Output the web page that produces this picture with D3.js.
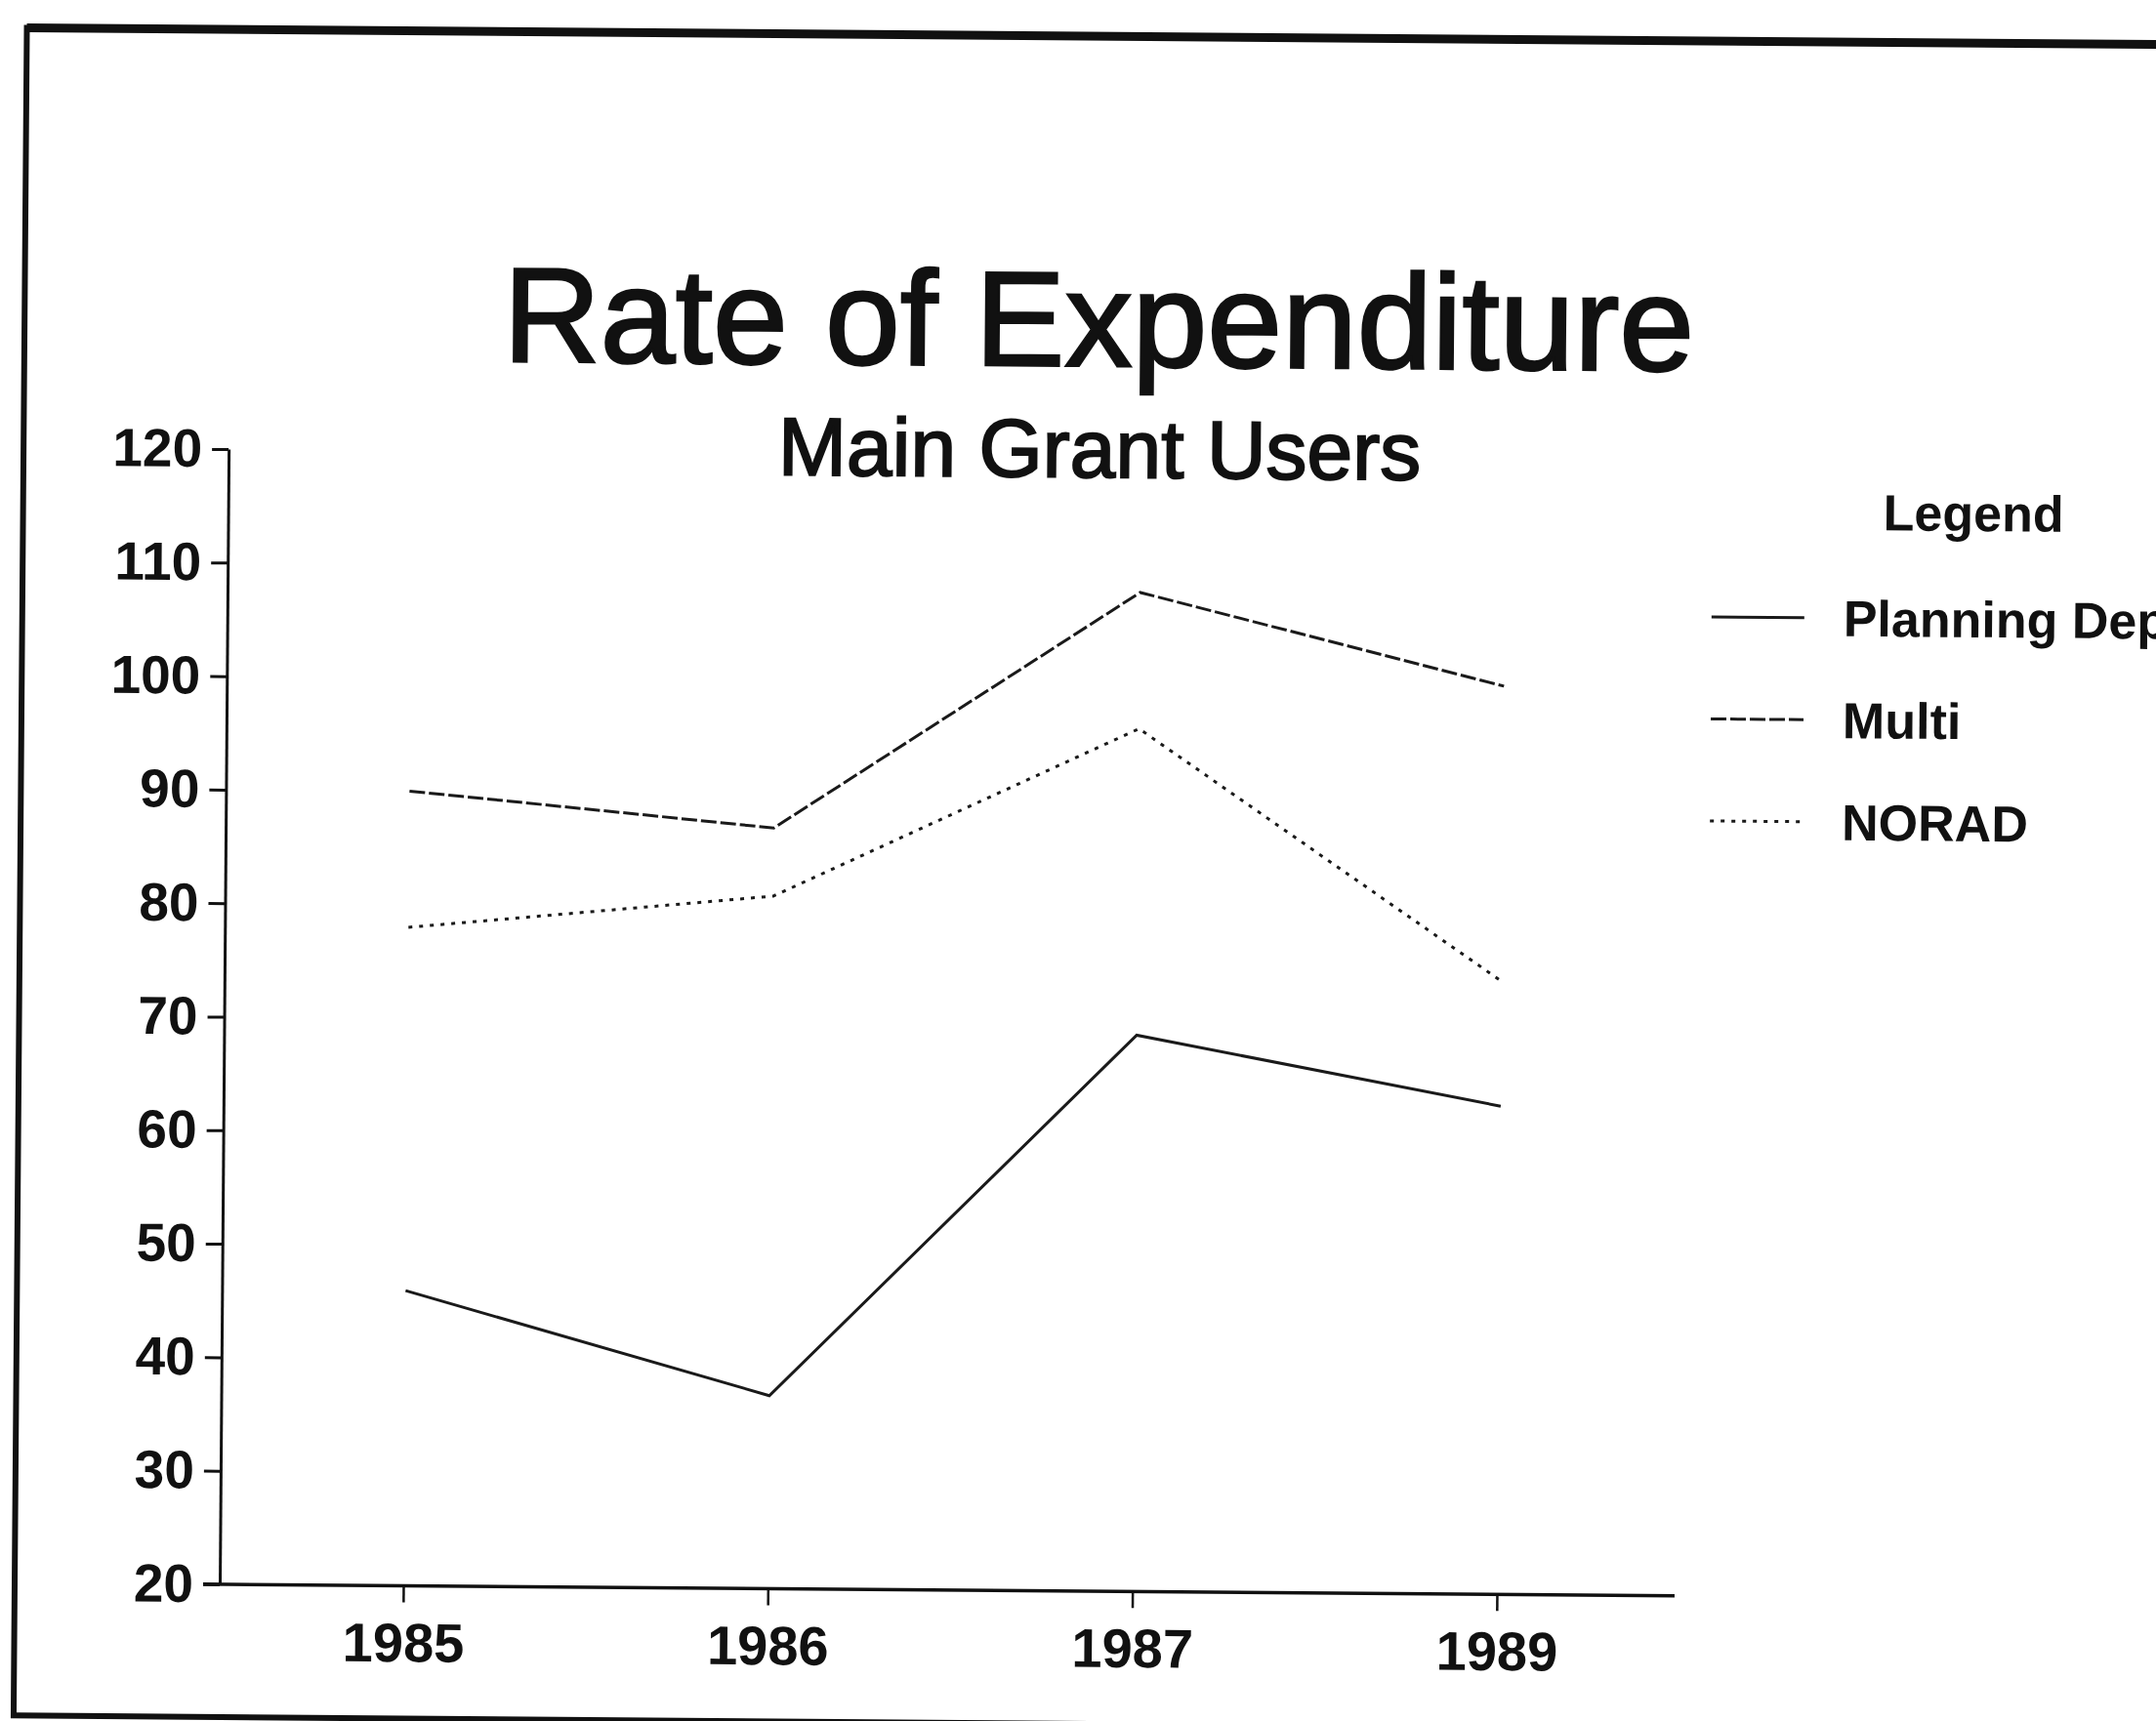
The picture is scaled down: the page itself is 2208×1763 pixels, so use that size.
<!DOCTYPE html>
<html>
<head>
<meta charset="utf-8">
<script src="https://cdn.jsdelivr.net/npm/d3@7"></script>
<style>
  html, body { margin: 0; padding: 0; background: #fff; }
  svg { display: block; }
  text { font-family: "Liberation Sans", Arial, Helvetica, sans-serif; fill: #111; }
</style>
</head>
<body>
<svg id="chart" width="2208" height="1763"></svg>
<script>
// Years on the horizontal axis (1988 is not reported)
const years = ["1985", "1986", "1987", "1989"];

// Expenditure rate per user group
const planningDept = [46, 37, 69, 63];
const multi        = [90, 87, 108, 100];
const norad        = [78, 81, 96, 74];

// Vertical axis ticks
const yTicks = [20, 30, 40, 50, 60, 70, 80, 90, 100, 110, 120];

const seriesNames = ["Planning Dept.", "Multi", "NORAD"];
const seriesDash  = [null, "16,4", "4,7"];

const series = [planningDept, multi, norad].map((vals, i) => ({
  name: seriesNames[i],
  dash: seriesDash[i],
  values: years.map((yr, j) => ({ year: yr, value: vals[j] }))
}));

const W = 2208, H = 1763;
const originX = 225, originY = 1623;

const svg = d3.select("#chart");
svg.append("rect").attr("width", W).attr("height", H).attr("fill", "#fff");

// the printed sheet sits slightly tilted
const page = svg.append("g").attr("transform", `rotate(0.45, ${originX}, ${originY})`);

// page frame
page.append("rect")
  .attr("x", 15).attr("y", 30)
  .attr("width", 2400).attr("height", 1729)
  .attr("fill", "none").attr("stroke", "#111").attr("stroke-width", 6);
page.append("line")
  .attr("x1", 15).attr("x2", 2400).attr("y1", 30).attr("y2", 30)
  .attr("stroke", "#111").attr("stroke-width", 9);

const x = d3.scalePoint().domain(years).range([413, 1533]);
const y = d3.scaleLinear().domain([20, 120]).range([originY, 460]);

// titles
page.append("text")
  .attr("x", 1115).attr("y", 368)
  .attr("text-anchor", "middle")
  .attr("font-size", 138)
  .attr("stroke", "#111").attr("stroke-width", 2.5)
  .text("Rate of Expenditure");
page.append("text")
  .attr("x", 1117).attr("y", 482)
  .attr("text-anchor", "middle")
  .attr("font-size", 84)
  .attr("stroke", "#111").attr("stroke-width", 2)
  .text("Main Grant Users");

// y axis
const yAxis = page.append("g")
  .attr("transform", `translate(${originX},0)`)
  .call(d3.axisLeft(y).tickValues(yTicks).tickSize(17).tickSizeOuter(0).tickPadding(10));
yAxis.select(".domain").attr("stroke", "#111").attr("stroke-width", 3);
yAxis.selectAll(".tick line").attr("stroke", "#111").attr("stroke-width", 3);
yAxis.selectAll(".tick text")
  .attr("font-size", 55).attr("font-weight", "bold")
  .attr("font-family", "Liberation Sans, Arial, sans-serif").attr("fill", "#111");

// x axis
const xAxis = page.append("g")
  .attr("transform", `translate(0,${originY})`)
  .call(d3.axisBottom(x).tickSize(17).tickPadding(21));
xAxis.select(".domain").remove();
xAxis.insert("line", ":first-child")
  .attr("x1", originX - 17).attr("x2", 1715)
  .attr("y1", 0).attr("y2", 0)
  .attr("stroke", "#111").attr("stroke-width", 3.5);
xAxis.selectAll(".tick line").attr("stroke", "#111").attr("stroke-width", 2.5);
xAxis.selectAll(".tick text")
  .attr("font-size", 56).attr("font-weight", "bold")
  .attr("font-family", "Liberation Sans, Arial, sans-serif").attr("fill", "#111");

// series lines
const line = d3.line().x(d => x(d.year)).y(d => y(d.value));
page.selectAll(".series")
  .data(series)
  .join("path")
  .attr("class", "series")
  .attr("d", d => line(d.values))
  .attr("fill", "none")
  .attr("stroke", "#1a1a1a")
  .attr("stroke-width", 3)
  .attr("stroke-linejoin", "miter")
  .attr("stroke-dasharray", d => d.dash);

// legend
const legend = page.append("g");
legend.append("text")
  .attr("x", 1920).attr("y", 530)
  .attr("font-size", 52).attr("font-weight", "bold")
  .text("Legend");

const rowY = d3.scalePoint().domain(seriesNames).range([620, 829]);
const rows = legend.selectAll(".legend-row")
  .data(series)
  .join("g")
  .attr("class", "legend-row")
  .attr("transform", d => `translate(0,${rowY(d.name)})`);
rows.append("line")
  .attr("x1", 1745).attr("x2", 1840)
  .attr("stroke", "#1a1a1a").attr("stroke-width", 3)
  .attr("stroke-dasharray", d => d.dash);
rows.append("text")
  .attr("x", 1880).attr("dy", "0.36em")
  .attr("font-size", 52).attr("font-weight", "bold")
  .text(d => d.name);
</script>
</body>
</html>
